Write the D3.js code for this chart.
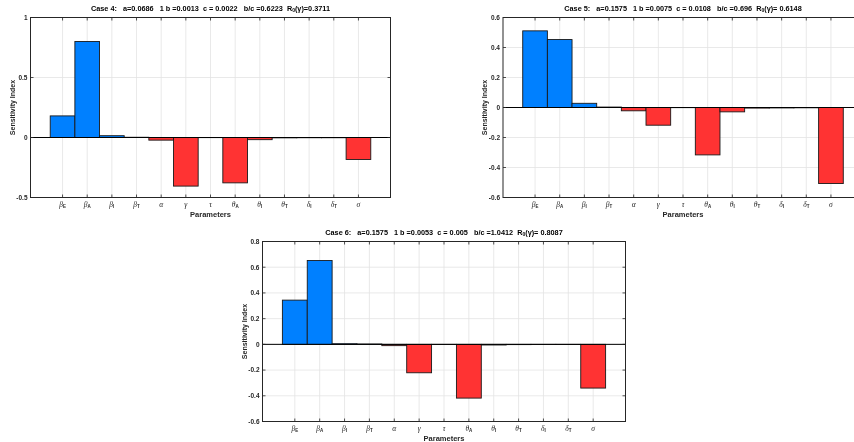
<!DOCTYPE html>
<html>
<head>
<meta charset="utf-8">
<script src="https://cdn.jsdelivr.net/npm/d3@7"></script>
<style>
  body { margin: 0; background: #fff; }
  svg { display: block; font-family: "Liberation Sans", Arial, sans-serif; will-change: transform; }
  .title { font-size: 7.3px; font-weight: bold; white-space: pre; }
  .tick-y { font-size: 6.5px; font-weight: bold; }
  .axis-label { font-size: 7.5px; font-weight: bold; fill: #262626; }
  .greek { font-family: "Liberation Serif", "DejaVu Serif", serif; font-style: italic; font-size: 7.5px; fill: #262626; }
  .sub { font-family: "Liberation Sans", Arial, sans-serif; font-style: normal; font-weight: bold; font-size: 4.5px; }
</style>
</head>
<body>
<svg id="chart" width="854" height="442"></svg>
<script>
// Parameter labels: greek symbol + subscript
const params = [
  ['β', 'E'], ['β', 'A'], ['β', 'I'], ['β', 'T'], ['α', ''], ['γ', ''], ['τ', ''],
  ['θ', 'A'], ['θ', 'I'], ['θ', 'T'], ['δ', 'I'], ['δ', 'T'], ['σ', '']
];

// Sensitivity indices
const case4 = [0.18, 0.80, 0.015, 0.002, -0.022, -0.405, -0.001, -0.378, -0.018, -0.003, -0.002, -0.002, -0.183];
const case5 = [0.511, 0.453, 0.028, 0.003, -0.022, -0.118, -0.001, -0.316, -0.029, -0.004, -0.003, -0.002, -0.507];
const case6 = [0.344, 0.652, 0.005, 0.003, -0.01, -0.221, -0.001, -0.418, -0.005, -0.002, -0.001, -0.001, -0.34];

const yTicks4 = [-0.5, 0, 0.5, 1];
const yTicks5 = [-0.6, -0.4, -0.2, 0, 0.2, 0.4, 0.6];
const yTicks6 = [-0.6, -0.4, -0.2, 0, 0.2, 0.4, 0.6, 0.8];

const titles = {
  c4: ['Case 4:   a=0.0686   1 b =0.0013  c = 0.0022   b/c =0.6223  R', '0', '(γ)=0.3711'],
  c5: ['Case 5:   a=0.1575   1 b =0.0075  c = 0.0108   b/c =0.696  R', '0', '(γ)= 0.6148'],
  c6: ['Case 6:   a=0.1575   1 b =0.0053  c = 0.005   b/c =1.0412  R', '0', '(γ)= 0.8087']
};

const BLUE = '#0080ff', RED = '#ff3333';

let svg = d3.select('#chart');

function fmt (v) {
  if (v === 0) return '0';
  return String(v);
}

function drawChart (opt) {
  let g = svg.append('g').attr('transform', 'translate(' + opt.left + ',' + opt.top + ')');
  let w = opt.width, h = opt.height;

  let x = d3.scaleLinear().domain([-0.3, 14.3]).range([0, w]);
  let y = d3.scaleLinear().domain(opt.yDomain).range([h, 0]);
  let idx = d3.range(1, params.length + 1);

  // grid
  g.append('g').selectAll('line.vg')
    .data(idx).enter().append('line')
    .attr('x1', d => x(d)).attr('x2', d => x(d))
    .attr('y1', 0).attr('y2', h)
    .attr('stroke', '#e3e3e3').attr('stroke-width', 0.8);
  g.append('g').selectAll('line.hg')
    .data(opt.yTicks).enter().append('line')
    .attr('x1', 0).attr('x2', w)
    .attr('y1', d => y(d)).attr('y2', d => y(d))
    .attr('stroke', '#e3e3e3').attr('stroke-width', 0.8);

  // bars
  g.append('g').selectAll('rect')
    .data(opt.values).enter().append('rect')
    .attr('x', (d, i) => x(i + 0.5))
    .attr('width', x(1) - x(0))
    .attr('y', d => y(Math.max(0, d)))
    .attr('height', d => Math.abs(y(d) - y(0)))
    .attr('fill', d => d >= 0 ? BLUE : RED)
    .attr('stroke', '#1a1a1a').attr('stroke-width', 0.9);

  // zero line
  g.append('line')
    .attr('x1', 0).attr('x2', w)
    .attr('y1', y(0)).attr('y2', y(0))
    .attr('stroke', '#000').attr('stroke-width', 1);

  // box
  g.append('rect')
    .attr('width', w).attr('height', h)
    .attr('fill', 'none').attr('stroke', '#262626').attr('stroke-width', 1);

  // ticks (inward, all four sides)
  let tl = 3;
  idx.forEach(d => {
    g.append('line').attr('x1', x(d)).attr('x2', x(d)).attr('y1', h).attr('y2', h - tl)
      .attr('stroke', '#262626').attr('stroke-width', 0.8);
    g.append('line').attr('x1', x(d)).attr('x2', x(d)).attr('y1', 0).attr('y2', tl)
      .attr('stroke', '#262626').attr('stroke-width', 0.8);
  });
  opt.yTicks.forEach(d => {
    g.append('line').attr('x1', 0).attr('x2', tl).attr('y1', y(d)).attr('y2', y(d))
      .attr('stroke', '#262626').attr('stroke-width', 0.8);
    g.append('line').attr('x1', w).attr('x2', w - tl).attr('y1', y(d)).attr('y2', y(d))
      .attr('stroke', '#262626').attr('stroke-width', 0.8);
  });

  // y tick labels
  g.append('g').selectAll('text')
    .data(opt.yTicks).enter().append('text')
    .attr('class', 'tick-y')
    .attr('x', -3).attr('y', d => y(d) + 2.3)
    .attr('text-anchor', 'end')
    .attr('fill', '#262626')
    .text(d => fmt(d));

  // x tick labels
  let xt = g.append('g').selectAll('text')
    .data(params).enter().append('text')
    .attr('class', 'greek')
    .attr('x', (d, i) => x(i + 1))
    .attr('y', h + 9)
    .attr('text-anchor', 'middle');
  xt.append('tspan').text(d => d[0]);
  xt.filter(d => d[1] !== '').append('tspan')
    .attr('class', 'sub').attr('dy', 1.5).text(d => d[1]);

  // axis labels
  g.append('text').attr('class', 'axis-label')
    .attr('x', w / 2).attr('y', h + 19)
    .attr('text-anchor', 'middle').text('Parameters');
  g.append('text').attr('class', 'axis-label')
    .attr('transform', 'translate(' + (-16) + ',' + (h / 2) + ') rotate(-90)')
    .attr('text-anchor', 'middle').style('font-size', '7px').text('Sensitivity Index');

  // title
  let t = g.append('text').attr('class', 'title')
    .attr('x', w / 2).attr('y', -7).attr('text-anchor', 'middle');
  t.append('tspan').text(opt.title[0]);
  t.append('tspan').attr('dy', 1.5).style('font-size', '5px').text(opt.title[1]);
  t.append('tspan').attr('dy', -1.5).text(opt.title[2]);
}

drawChart({ left: 30.5, top: 17.5, width: 360, height: 180, yDomain: [-0.5, 1],
  yTicks: yTicks4, values: case4, title: titles.c4 });
drawChart({ left: 503, top: 17.5, width: 360, height: 180, yDomain: [-0.6, 0.6],
  yTicks: yTicks5, values: case5, title: titles.c5 });
drawChart({ left: 262.5, top: 241.5, width: 363, height: 180, yDomain: [-0.6, 0.8],
  yTicks: yTicks6, values: case6, title: titles.c6 });
</script>
</body>
</html>
